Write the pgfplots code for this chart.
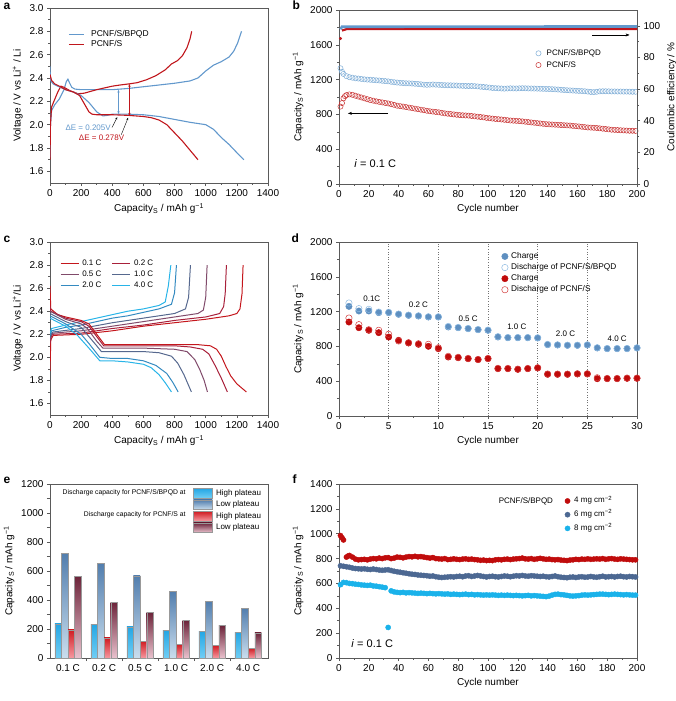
\documentclass[border=0pt]{standalone}
\usepackage{fontspec}
\setmainfont{Liberation Sans}
\usepackage{pgfplots}
\pgfplotsset{compat=1.18}
\usetikzlibrary{arrows.meta}
\definecolor{bq}{RGB}{98,152,204}
\definecolor{rd}{RGB}{192,22,28}
\definecolor{bqo}{RGB}{125,172,214}
\definecolor{rdo}{RGB}{200,50,50}
\definecolor{dblue}{RGB}{94,143,192}
\definecolor{dbo}{RGB}{140,185,225}
\definecolor{dred}{RGB}{192,10,10}
\definecolor{dro}{RGB}{210,60,60}
\definecolor{cA}{RGB}{196,22,28}
\definecolor{cB}{RGB}{168,32,58}
\definecolor{cC}{RGB}{128,74,106}
\definecolor{cD}{RGB}{86,104,142}
\definecolor{cE}{RGB}{52,138,192}
\definecolor{cF}{RGB}{40,180,232}
\definecolor{fred}{RGB}{192,12,12}
\definecolor{fslate}{RGB}{76,104,146}
\definecolor{fcyan}{RGB}{26,178,234}
\definecolor{eHBt}{RGB}{36,166,228}
\definecolor{eHBb}{RGB}{112,206,245}
\definecolor{eLBt}{RGB}{82,126,174}
\definecolor{eLBb}{RGB}{202,222,238}
\definecolor{eHRt}{RGB}{208,28,34}
\definecolor{eHRb}{RGB}{246,152,160}
\definecolor{eLRt}{RGB}{108,36,58}
\definecolor{eLRb}{RGB}{234,194,206}
\definecolor{axc}{RGB}{90,90,90}
\pgfplotsset{
  every axis/.append style={
    scale only axis, tick align=outside,
    axis line style={draw=axc, line width=0.5pt},
    every tick/.append style={draw=axc, line width=0.5pt},
    major tick length=3pt, minor tick length=1.8pt,
    tick label style={font=\fontsize{10}{12}\selectfont},
    label style={font=\fontsize{10}{12}\selectfont},
    /pgf/number format/assume math mode=true,
    /pgf/number format/1000 sep={},
    scaled ticks=false,
    xtick pos=bottom, ytick pos=left,
    minor x tick num=1, minor y tick num=1,
    legend cell align=left,
  },
  linelegA/.style={legend image code/.code={\draw[##1] (0pt,0pt) -- (15pt,0pt);}},
  linelegC/.style={legend image code/.code={\draw[##1] (0pt,0pt) -- (18pt,0pt);}},
  markleg/.style={legend image code/.code={\draw[##1] plot coordinates {(0pt,0pt)};}},
  rectleg/.style={legend image code/.code={\draw[##1] (0pt,-4.8pt) rectangle (19pt,4.8pt);}},
  eHB/.style={draw=black!40, line width=0.3pt, top color=eHBt, bottom color=eHBb, bar shift=-9.9pt, rectleg},
  eLB/.style={draw=black!40, line width=0.3pt, top color=eLBt, bottom color=eLBb, bar shift=-3.3pt, rectleg},
  eHR/.style={draw=black!40, line width=0.3pt, top color=eHRt, bottom color=eHRb, bar shift=3.3pt, rectleg},
  eLR/.style={draw=black!40, line width=0.3pt, top color=eLRt, bottom color=eLRb, bar shift=9.9pt, rectleg},
}
\newcommand{\caplab}{Capacity\textsubscript{S} / mAh g\textsuperscript{−1}}
\begin{document}
\begin{tikzpicture}
\useasboundingbox (0pt,0pt) rectangle (675pt,-701pt);
\tikzset{plab/.style={anchor=base west, font=\bfseries\fontsize{12}{14}\selectfont}}
\node[plab] at (0pt,-9.5pt) {a};
\node[plab] at (289pt,-9.5pt) {b};
\node[plab] at (0pt,-242pt) {c};
\node[plab] at (288pt,-242pt) {d};
\node[plab] at (0pt,-483pt) {e};
\node[plab] at (289pt,-483pt) {f};

% ---------------- a
\begin{axis}[at={(50pt,-183pt)}, anchor=south west, width=218pt, height=175pt,
  xmin=0, xmax=1400, ymin=1.5, ymax=3.0,
  xtick={0,200,400,600,800,1000,1200,1400},
  ytick={1.6,1.8,2.0,2.2,2.4,2.6,2.8,3.0},
  yticklabel style={/pgf/number format/.cd, fixed, fixed zerofill, precision=1},
  xlabel={\caplab}, ylabel={Voltage / V vs Li\textsuperscript{+} / Li},
  legend style={at={(axis cs:117,2.816)}, anchor=north west, draw=none, fill=none, inner sep=0pt, row sep=0.2pt, column sep=6pt, font=\fontsize{8.5}{10}\selectfont, nodes={inner sep=0.6pt, text height=6.4pt, text depth=2.1pt}},
]
\addplot[bq, line width=1.1pt, linelegA] coordinates {(0,1.72)(3,2.0)(10,2.12)(30,2.17)(60,2.22)(90,2.30)(105,2.37)(115,2.39)(125,2.36)(140,2.32)(160,2.305)(200,2.30)(300,2.30)(400,2.30)(500,2.31)(600,2.325)(700,2.34)(800,2.355)(900,2.375)(950,2.40)(1000,2.46)(1050,2.51)(1100,2.54)(1150,2.58)(1180,2.63)(1205,2.70)(1230,2.80)};
\addlegendentry{PCNF/S/BPQD}
\addplot[rd, line width=1.1pt, linelegA] coordinates {(0,1.70)(3,2.0)(10,2.15)(25,2.20)(50,2.28)(70,2.33)(90,2.32)(130,2.29)(180,2.265)(220,2.27)(300,2.30)(400,2.33)(450,2.34)(510,2.35)(560,2.36)(620,2.385)(680,2.42)(740,2.47)(780,2.52)(820,2.55)(850,2.59)(880,2.66)(900,2.74)(910,2.80)};
\addlegendentry{PCNF/S}
\addplot[bq, line width=1.1pt, forget plot] coordinates {(0,2.50)(3,2.38)(20,2.35)(50,2.33)(100,2.30)(150,2.28)(200,2.25)(250,2.19)(300,2.11)(340,2.075)(370,2.08)(400,2.09)(500,2.09)(600,2.085)(700,2.07)(800,2.045)(900,2.02)(1000,2.00)(1050,1.96)(1100,1.89)(1150,1.83)(1200,1.76)(1245,1.70)};
\addplot[rd, line width=1.1pt, forget plot] coordinates {(0,2.43)(10,2.38)(30,2.35)(60,2.33)(100,2.30)(150,2.28)(190,2.25)(220,2.18)(250,2.11)(270,2.09)(300,2.085)(400,2.085)(500,2.08)(600,2.07)(650,2.06)(700,2.04)(750,2.00)(800,1.93)(850,1.86)(900,1.78)(950,1.70)};
\draw[bq, line width=0.5pt, {Stealth[length=3pt]}-{Stealth[length=3pt]}] (axis cs:440,2.30) -- (axis cs:440,2.09);
\draw[rd, line width=0.5pt, {Stealth[length=3pt]}-{Stealth[length=3pt]}] (axis cs:510,2.35) -- (axis cs:510,2.075);
\node[bq, font=\fontsize{8}{9}\selectfont] at (axis cs:245,1.97) {ΔE = 0.205V};
\node[rd, font=\fontsize{8}{9}\selectfont] at (axis cs:331,1.89) {ΔE = 0.278V};
\draw[black, line width=0.4pt, -{Stealth[length=2.5pt]}] (axis cs:398,1.975) -- (axis cs:432,2.065);
\draw[black, line width=0.4pt, -{Stealth[length=2.5pt]}] (axis cs:458,1.915) -- (axis cs:502,2.06);
\end{axis}

% ---------------- b
\begin{axis}[at={(339pt,-184pt)}, anchor=south west, width=298pt, height=174pt,
  xmin=0, xmax=200, ymin=0, ymax=2000, xtick={0,20,...,200}, ytick={0,400,...,2000},
  xlabel={Cycle number}, ylabel={\caplab},
  legend style={at={(axis cs:132,1557)}, anchor=north west, draw=none, fill=none, inner sep=0pt, row sep=2.5pt, column sep=5pt, font=\fontsize{8}{9.6}\selectfont, nodes={inner sep=0.6pt, text height=6pt, text depth=2pt}},
]
\addplot[only marks, mark=o, mark size=2.6pt, bqo, line width=0.5pt, markleg] coordinates {(1,1330)(2,1290)(3,1265)(5,1240)(7,1228)(9,1222)(11,1215)(13,1212)(15,1208)(17,1203)(19,1200)(21,1198)(23,1195)(25,1192)(27,1190)(29,1186)(31,1183)(33,1180)(35,1175)(37,1170)(39,1166)(41,1163)(43,1160)(45,1158)(47,1157)(49,1155)(51,1152)(53,1150)(55,1146)(57,1142)(59,1140)(61,1142)(63,1144)(65,1142)(67,1140)(69,1138)(71,1136)(73,1135)(75,1134)(77,1133)(79,1132)(81,1130)(83,1128)(85,1127)(87,1126)(89,1127)(91,1125)(93,1122)(95,1118)(97,1115)(99,1112)(101,1108)(103,1104)(105,1102)(107,1100)(109,1098)(111,1096)(113,1098)(115,1100)(117,1099)(119,1098)(121,1100)(123,1101)(125,1100)(127,1099)(129,1098)(131,1097)(133,1096)(135,1095)(137,1094)(139,1093)(141,1092)(143,1090)(145,1088)(147,1086)(149,1083)(151,1080)(153,1078)(155,1076)(157,1074)(159,1072)(161,1070)(163,1068)(165,1066)(167,1062)(169,1058)(171,1056)(173,1060)(175,1065)(177,1066)(179,1066)(181,1065)(183,1064)(185,1064)(187,1063)(189,1063)(191,1062)(193,1062)(195,1061)(197,1060)(199,1060)};
\addlegendentry{PCNF/S/BPQD}
\addplot[only marks, mark=o, mark size=2.6pt, rdo, line width=0.5pt, markleg] coordinates {(1,890)(2,930)(3,985)(4,1010)(5,1022)(7,1030)(9,1025)(11,1015)(13,1005)(15,995)(17,985)(19,975)(21,965)(23,958)(25,950)(27,944)(29,938)(31,932)(33,926)(35,918)(37,910)(39,900)(41,895)(43,890)(45,884)(47,878)(49,872)(51,866)(53,860)(55,854)(57,848)(59,842)(61,836)(63,832)(65,828)(67,824)(69,818)(71,812)(73,808)(75,804)(77,800)(79,796)(81,792)(83,790)(85,788)(87,786)(89,782)(91,778)(93,774)(95,770)(97,766)(99,760)(101,756)(103,752)(105,748)(107,745)(109,742)(111,738)(113,734)(115,730)(117,728)(119,726)(121,723)(123,720)(125,716)(127,712)(129,708)(131,704)(133,700)(135,696)(137,692)(139,688)(141,686)(143,684)(145,682)(147,680)(149,678)(151,676)(153,674)(155,672)(157,668)(159,665)(161,662)(163,658)(165,654)(167,650)(169,648)(171,646)(173,644)(175,640)(177,636)(179,632)(181,628)(183,624)(185,622)(187,620)(189,618)(191,616)(193,614)(195,612)(197,612)(199,610)};
\addlegendentry{PCNF/S}
\draw[line width=0.5pt, -{Stealth[length=4pt]}] (axis cs:33,812) -- (axis cs:6,812);
\draw[line width=0.5pt, -{Stealth[length=4pt]}] (axis cs:170,1713) -- (axis cs:195,1713);
\node[anchor=west, font=\fontsize{11}{13}\selectfont] at (axis cs:8,232) {\textit{i} = 0.1 C};
\end{axis}
\begin{axis}[at={(339pt,-184pt)}, anchor=south west, width=298pt, height=174pt,
  xmin=0, xmax=200, ymin=0, ymax=110, axis x line=none, axis y line*=right, ytick pos=right,
  ytick={0,20,...,100}, ylabel={Coulombic efficiency / \%}]
\addplot[rd, line width=2.2pt] coordinates {(2,97.0)(5,97.9)(200,97.9)};
\addplot[only marks, mark=*, mark size=1.3pt, rd] coordinates {(1,92)};
\addplot[bq, line width=2.6pt] coordinates {(1,97.8)(2,99.4)(200,99.6)};
\end{axis}

% ---------------- c
\begin{axis}[at={(50pt,-415pt)}, anchor=south west, width=218pt, height=173pt,
  xmin=0, xmax=1400, ymin=1.5, ymax=3.0,
  xtick={0,200,400,600,800,1000,1200,1400},
  ytick={1.6,1.8,2.0,2.2,2.4,2.6,2.8,3.0},
  yticklabel style={/pgf/number format/.cd, fixed, fixed zerofill, precision=1},
  xlabel={\caplab}, ylabel={Voltage / V vs Li\textsuperscript{+}/Li},
  legend columns=2,
  legend style={at={(axis cs:64,2.851)}, anchor=north west, draw=none, fill=none, inner sep=0pt, row sep=1.8pt, column sep=2.5pt, font=\fontsize{8}{9.6}\selectfont, nodes={inner sep=0.6pt, text height=6pt, text depth=2pt}, /tikz/every even column/.append style={column sep=10pt}},
]
\addplot[cA, line width=1pt, linelegC] coordinates {(0,1.88)(5,2.15)(20,2.19)(200,2.20)(400,2.23)(600,2.27)(800,2.30)(1000,2.33)(1150,2.36)(1200,2.38)(1220,2.42)(1233,2.55)(1240,2.80)};
\addlegendentry{0.1 C}
\addplot[cB, line width=1pt, linelegC] coordinates {(0,2.12)(10,2.19)(20,2.20)(200,2.21)(400,2.25)(600,2.28)(800,2.32)(1000,2.35)(1090,2.38)(1115,2.44)(1125,2.55)(1133,2.80)};
\addlegendentry{0.2 C}
\addplot[cC, line width=1pt, linelegC] coordinates {(0,2.15)(10,2.20)(20,2.21)(200,2.23)(400,2.27)(600,2.31)(800,2.35)(950,2.38)(985,2.41)(1000,2.52)(1009,2.80)};
\addlegendentry{0.5 C}
\addplot[cD, line width=1pt, linelegC] coordinates {(0,2.17)(10,2.21)(20,2.22)(200,2.25)(400,2.30)(600,2.34)(800,2.38)(870,2.42)(890,2.52)(902,2.80)};
\addlegendentry{1.0 C}
\addplot[cE, line width=1pt, linelegC] coordinates {(0,2.19)(10,2.23)(100,2.26)(200,2.28)(300,2.31)(400,2.34)(500,2.36)(600,2.39)(700,2.42)(780,2.46)(800,2.56)(812,2.80)};
\addlegendentry{2.0 C}
\addplot[cF, line width=1pt, linelegC] coordinates {(0,2.21)(10,2.25)(100,2.28)(200,2.31)(300,2.34)(400,2.37)(500,2.40)(600,2.42)(700,2.45)(740,2.48)(760,2.62)(776,2.80)};
\addlegendentry{4.0 C}
\addplot[cA, line width=1pt, forget plot] coordinates {(0,2.62)(5,2.42)(50,2.37)(100,2.35)(200,2.32)(250,2.29)(300,2.20)(350,2.11)(400,2.11)(600,2.11)(800,2.11)(950,2.11)(1030,2.10)(1070,2.07)(1100,2.01)(1130,1.92)(1160,1.84)(1200,1.77)(1261,1.70)};
\addplot[cB, line width=1pt, forget plot] coordinates {(0,2.45)(5,2.40)(100,2.34)(200,2.31)(250,2.27)(300,2.18)(345,2.10)(400,2.10)(600,2.10)(800,2.10)(900,2.09)(980,2.07)(1020,2.03)(1060,1.93)(1100,1.82)(1139,1.70)};
\addplot[cC, line width=1pt, forget plot] coordinates {(0,2.40)(100,2.33)(200,2.29)(240,2.25)(300,2.14)(340,2.08)(400,2.08)(600,2.08)(800,2.07)(880,2.05)(930,1.98)(960,1.90)(990,1.80)(1011,1.70)};
\addplot[cD, line width=1pt, forget plot] coordinates {(0,2.38)(100,2.31)(200,2.26)(300,2.10)(330,2.05)(400,2.05)(600,2.05)(700,2.04)(780,2.01)(820,1.95)(860,1.85)(908,1.70)};
\addplot[cE, line width=1pt, forget plot] coordinates {(0,2.36)(100,2.29)(200,2.20)(250,2.12)(320,2.00)(400,1.99)(500,1.99)(600,1.97)(680,1.93)(750,1.86)(790,1.78)(823,1.70)};
\addplot[cF, line width=1pt, forget plot] coordinates {(0,2.34)(100,2.27)(170,2.20)(250,2.08)(320,1.97)(400,1.97)(500,1.96)(600,1.94)(650,1.91)(700,1.85)(740,1.78)(780,1.70)};
\end{axis}

% ---------------- d
\begin{axis}[at={(339pt,-416pt)}, anchor=south west, width=298pt, height=174pt,
  xmin=0, xmax=30, ymin=0, ymax=2000, xtick={0,5,...,30}, ytick={0,400,...,2000},
  xlabel={Cycle number}, ylabel={\caplab},
  legend style={at={(axis cs:16.36,1891)}, anchor=north west, draw=none, fill=none, inner sep=0pt, row sep=1.6pt, column sep=2.5pt, font=\fontsize{8.3}{10}\selectfont, nodes={inner sep=0.6pt, text height=6.2pt, text depth=2.1pt}},
]
\addplot[black!55, dotted, line width=0.6pt, forget plot] coordinates {(5,0)(5,2000)};
\addplot[black!55, dotted, line width=0.6pt, forget plot] coordinates {(10,0)(10,2000)};
\addplot[black!55, dotted, line width=0.6pt, forget plot] coordinates {(15,0)(15,2000)};
\addplot[black!55, dotted, line width=0.6pt, forget plot] coordinates {(20,0)(20,2000)};
\addplot[black!55, dotted, line width=0.6pt, forget plot] coordinates {(25,0)(25,2000)};
\addplot[only marks, mark=*, mark size=3.2pt, dblue, markleg] coordinates {(1,1260)(2,1207)(3,1207)(4,1188)(5,1188)(6,1169)(7,1157)(8,1149)(9,1138)(10,1138)(11,1023)(12,1015)(13,1004)(14,992)(15,985)(16,908)(17,900)(18,900)(19,900)(20,897)(21,820)(22,816)(23,812)(24,812)(25,816)(26,782)(27,774)(28,774)(29,774)(30,782)};
\addlegendentry{Charge}
\addplot[only marks, mark=o, mark size=3.2pt, dbo, line width=0.5pt, markleg] coordinates {(1,1299)(2,1234)(3,1226)(4,1195)(5,1192)(6,1172)(7,1160)(8,1152)(9,1141)(10,1140)(11,1030)(12,1018)(13,1006)(14,994)(15,987)(16,912)(17,902)(18,902)(19,902)(20,899)(21,823)(22,818)(23,814)(24,814)(25,818)(26,785)(27,776)(28,776)(29,776)(30,784)};
\addlegendentry{Discharge of PCNF/S/BPQD}
\addplot[only marks, mark=*, mark size=3.2pt, dred, markleg] coordinates {(1,1080)(2,1015)(3,985)(4,958)(5,908)(6,870)(7,839)(8,824)(9,801)(10,774)(11,678)(12,670)(13,659)(14,648)(15,659)(16,544)(17,544)(18,536)(19,544)(20,552)(21,479)(22,479)(23,479)(24,483)(25,483)(26,429)(27,429)(28,429)(29,433)(30,433)};
\addlegendentry{Charge}
\addplot[only marks, mark=o, mark size=3.2pt, dro, line width=0.5pt, markleg] coordinates {(1,1126)(2,1050)(3,992)(4,985)(5,939)(6,862)(7,843)(8,831)(9,824)(10,785)(11,686)(12,675)(13,662)(14,650)(15,662)(16,548)(17,547)(18,539)(19,547)(20,555)(21,483)(22,482)(23,482)(24,486)(25,486)(26,440)(27,432)(28,432)(29,436)(30,436)};
\addlegendentry{Discharge of PCNF/S}
\tikzset{rl/.style={font=\fontsize{8}{9.6}\selectfont}}
\node[rl] at (axis cs:3.3,1349) {0.1C};
\node[rl] at (axis cs:8,1284) {0.2 C};
\node[rl] at (axis cs:13,1119) {0.5 C};
\node[rl] at (axis cs:17.9,1023) {1.0 C};
\node[rl] at (axis cs:22.8,946) {2.0 C};
\node[rl] at (axis cs:28,889) {4.0 C};
\end{axis}

% ---------------- e
\begin{axis}[at={(50pt,-658pt)}, anchor=south west, width=218pt, height=174pt,
  ybar, bar width=6.6pt, xmin=-0.5, xmax=5.55, ymin=0, ymax=1200,
  xtick={0,1,2,3,4,5}, xticklabels={0.1 C,0.2 C,0.5 C,1.0 C,2.0 C,4.0 C},
  minor xtick={0.5,1.5,2.5,3.5,4.5}, major x tick style={draw=none}, minor tick length=3pt,
  ytick={0,200,...,1200}, ylabel={\caplab},
  legend style={at={(axis cs:3.468,1172)}, anchor=north west, draw=none, fill=none, inner sep=0pt, row sep=1.6pt, column sep=3pt, font=\fontsize{8}{9.6}\selectfont, nodes={inner sep=0.6pt, text height=6pt, text depth=2pt}},
]
\addplot[eHB] coordinates {(0,236)};
\addlegendentry{High plateau}
\addplot[eLB] coordinates {(0,723)};
\addlegendentry{Low plateau}
\addplot[eHR] coordinates {(0,195)};
\addlegendentry{High plateau}
\addplot[eLR] coordinates {(0,565)};
\addlegendentry{Low plateau}
\addplot[eHB, forget plot] coordinates {(1,234)};
\addplot[eHB, forget plot] coordinates {(2,216)};
\addplot[eHB, forget plot] coordinates {(3,193)};
\addplot[eHB, forget plot] coordinates {(4,184)};
\addplot[eHB, forget plot] coordinates {(5,179)};
\addplot[eLB, forget plot] coordinates {(1,654)};
\addplot[eLB, forget plot] coordinates {(2,567)};
\addplot[eLB, forget plot] coordinates {(3,459)};
\addplot[eLB, forget plot] coordinates {(4,392)};
\addplot[eLB, forget plot] coordinates {(5,344)};
\addplot[eHR, forget plot] coordinates {(1,138)};
\addplot[eHR, forget plot] coordinates {(2,117)};
\addplot[eHR, forget plot] coordinates {(3,96)};
\addplot[eHR, forget plot] coordinates {(4,89)};
\addplot[eHR, forget plot] coordinates {(5,69)};
\addplot[eLR, forget plot] coordinates {(1,385)};
\addplot[eLR, forget plot] coordinates {(2,314)};
\addplot[eLR, forget plot] coordinates {(3,259)};
\addplot[eLR, forget plot] coordinates {(4,225)};
\addplot[eLR, forget plot] coordinates {(5,174)};
\node[anchor=east, font=\fontsize{6.8}{8}\selectfont] at (axis cs:3.36,1138) {Discharge capacity for PCNF/S/BPQD at};
\node[anchor=east, font=\fontsize{6.8}{8}\selectfont] at (axis cs:3.36,986) {Discharge capacity for PCNF/S at};
\end{axis}

% ---------------- f
\begin{axis}[at={(339pt,-658pt)}, anchor=south west, width=298pt, height=174pt,
  xmin=0, xmax=200, ymin=0, ymax=1400, xtick={0,20,...,200}, ytick={0,200,...,1400},
  xlabel={Cycle number}, ylabel={\caplab},
  legend style={at={(axis cs:151.5,1302)}, anchor=north west, draw=none, fill=none, inner sep=0pt, row sep=4.5pt, column sep=3.5pt, font=\fontsize{8}{9.6}\selectfont, nodes={inner sep=0.6pt, text height=6pt, text depth=2pt}},
]
\addplot[only marks, mark=*, mark size=2.6pt, fred, markleg] coordinates {(1,985)(2,968)(3,950)(5,812)(6,820)(7,825)(9,812)(11,796)(13,790)(15,792)(17,794)(19,790)(21,796)(23,800)(25,798)(27,804)(29,800)(31,806)(33,808)(35,800)(37,804)(39,812)(41,810)(43,806)(45,812)(47,816)(49,814)(51,818)(53,814)(55,816)(57,812)(59,808)(61,804)(63,808)(65,800)(67,798)(69,796)(71,800)(73,792)(75,794)(77,798)(79,794)(81,792)(83,796)(85,798)(87,794)(89,796)(91,792)(93,790)(95,786)(97,788)(99,784)(101,786)(103,784)(105,790)(107,792)(109,790)(111,794)(113,796)(115,792)(117,796)(119,798)(121,800)(123,804)(125,798)(127,796)(129,800)(131,794)(133,798)(135,802)(137,798)(139,794)(141,796)(143,792)(145,790)(147,792)(149,788)(151,786)(153,784)(155,788)(157,790)(159,794)(161,792)(163,796)(165,794)(167,798)(169,794)(171,796)(173,798)(175,796)(177,800)(179,794)(181,798)(183,800)(185,796)(187,794)(189,798)(191,796)(193,794)(195,792)(197,790)(199,790)};
\addlegendentry{4 mg cm\textsuperscript{−2}}
\addplot[only marks, mark=*, mark size=2.6pt, fslate, markleg] coordinates {(1,742)(3,738)(5,734)(7,730)(9,724)(11,720)(13,718)(15,716)(17,718)(19,714)(21,712)(23,716)(25,712)(27,708)(29,706)(31,708)(33,710)(35,704)(37,698)(39,694)(41,690)(43,686)(45,682)(47,678)(49,674)(51,672)(53,668)(55,666)(57,664)(59,662)(61,658)(63,660)(65,654)(67,650)(69,648)(71,650)(73,652)(75,654)(77,652)(79,656)(81,658)(83,654)(85,660)(87,662)(89,656)(91,660)(93,664)(95,660)(97,656)(99,652)(101,656)(103,658)(105,654)(107,652)(109,656)(111,660)(113,658)(115,654)(117,658)(119,662)(121,660)(123,664)(125,660)(127,658)(129,662)(131,660)(133,658)(135,656)(137,658)(139,654)(141,652)(143,656)(145,660)(147,654)(149,650)(151,648)(153,646)(155,650)(157,652)(159,648)(161,652)(163,654)(165,650)(167,652)(169,656)(171,652)(173,650)(175,654)(177,658)(179,652)(181,654)(183,656)(185,652)(187,656)(189,658)(191,654)(193,652)(195,656)(197,654)(199,652)};
\addlegendentry{6 mg cm\textsuperscript{−2}}
\addplot[only marks, mark=*, mark size=2.6pt, fcyan, markleg] coordinates {(1,590)(3,608)(5,606)(7,600)(9,598)(11,594)(13,592)(15,588)(17,586)(19,584)(21,586)(23,580)(25,578)(27,574)(29,570)(31,566)(33,246)(35,540)(37,532)(39,528)(41,526)(43,528)(45,524)(47,526)(49,524)(51,522)(53,520)(55,522)(57,520)(59,518)(61,520)(63,518)(65,516)(67,518)(69,516)(71,514)(73,516)(75,512)(77,514)(79,512)(81,510)(83,512)(85,514)(87,510)(89,512)(91,508)(93,510)(95,508)(97,506)(99,508)(101,506)(103,508)(105,506)(107,504)(109,506)(111,504)(113,506)(115,504)(117,502)(119,504)(121,502)(123,500)(125,502)(127,504)(129,500)(131,502)(133,500)(135,498)(137,496)(139,494)(141,498)(143,506)(145,512)(147,514)(149,510)(151,508)(153,504)(155,500)(157,498)(159,500)(161,502)(163,506)(165,508)(167,506)(169,508)(171,510)(173,512)(175,514)(177,514)(179,512)(181,510)(183,512)(185,514)(187,512)(189,510)(191,508)(193,510)(195,508)(197,506)(199,506)};
\addlegendentry{8 mg cm\textsuperscript{−2}}
\node[anchor=east, font=\fontsize{8}{9.6}\selectfont] at (axis cs:146,1263) {PCNF/S/BPQD};
\node[anchor=west, font=\fontsize{11}{13}\selectfont] at (axis cs:6,120) {\textit{i} = 0.1 C};
\end{axis}
\end{tikzpicture}
\end{document}
